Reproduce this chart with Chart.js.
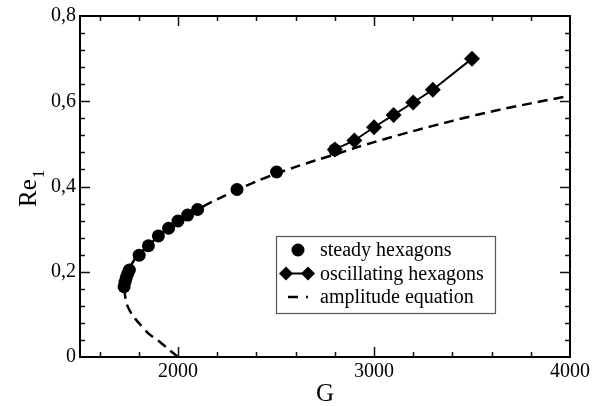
<!DOCTYPE html>
<html>
<head>
<meta charset="utf-8">
<script src="https://cdn.jsdelivr.net/npm/chart.js@4"></script>
<style>
  html, body { margin: 0; padding: 0; background: #fff; }
  #wrap { width: 601px; height: 406px; }
</style>
</head>
<body>
<div id="wrap"><canvas id="c" width="601" height="406"></canvas></div>
<script>
  // ── data ─────────────────────────────────────────────────
  const steadyG  = [1725, 1730, 1736, 1743, 1752, 1802, 1849, 1900, 1952, 2000, 2049, 2100, 2301, 2503, 2800];
  const steadyRe = [0.165, 0.176, 0.186, 0.195, 0.204, 0.239, 0.261, 0.284, 0.302, 0.319, 0.333, 0.346, 0.393, 0.434, 0.486];

  const oscG  = [2800, 2900, 3000, 3100, 3200, 3300, 3500];
  const oscRe = [0.487, 0.508, 0.539, 0.568, 0.597, 0.627, 0.700];

  const ampG  = [2000, 1960, 1900, 1850, 1800, 1765, 1742, 1731, 1728, 1731, 1740, 1755, 1780, 1800, 1850, 1900, 1950, 2000,
                 2100, 2200, 2300, 2400, 2500, 2600, 2700, 2800, 2900, 3000, 3200, 3400, 3600, 3800, 4000];
  const ampRe = [0, 0.015, 0.038, 0.055, 0.080, 0.100, 0.120, 0.140, 0.155, 0.170, 0.190, 0.210, 0.230, 0.240, 0.262, 0.283, 0.301, 0.318,
                 0.346, 0.370, 0.392, 0.412, 0.430, 0.446, 0.461, 0.475, 0.490, 0.504, 0.530, 0.554, 0.576, 0.595, 0.613];

  const xTicks = [2000, 3000, 4000];
  const yTicks = [0, 0.2, 0.4, 0.6, 0.8];

  const legendLabels = ['steady hexagons', 'oscillating hexagons', 'amplitude equation'];

  const FONT = "'Liberation Serif', 'Times New Roman', serif";

  const pts = (xs, ys) => xs.map((x, i) => ({ x: x, y: ys[i] }));

  // frame, inward ticks, axis titles and legend
  const framePlugin = {
    id: 'frame',
    afterDraw(chart) {
      const { ctx, chartArea: a, scales } = chart;
      const xs = scales.x, ys = scales.y;
      ctx.save();

      // minor + major ticks on all four sides
      ctx.strokeStyle = '#111';
      ctx.lineWidth = 1.5;
      ctx.beginPath();
      for (let v = 1600; v < 4000; v += 200) {
        const px = Math.round(xs.getPixelForValue(v)) + 0.5;
        const len = v % 1000 === 0 ? 10 : 5;
        ctx.moveTo(px, a.bottom); ctx.lineTo(px, a.bottom - len);
        ctx.moveTo(px, a.top); ctx.lineTo(px, a.top + len);
      }
      for (let k = 1; k < 20; k++) {
        const v = k * 0.04;
        const py = Math.round(ys.getPixelForValue(v)) + 0.5;
        const len = k % 5 === 0 ? 10 : 5;
        ctx.moveTo(a.left, py); ctx.lineTo(a.left + len, py);
        ctx.moveTo(a.right, py); ctx.lineTo(a.right - len, py);
      }
      ctx.stroke();

      ctx.strokeStyle = '#000';
      ctx.lineWidth = 2;
      ctx.strokeRect(a.left, a.top, a.right - a.left, a.bottom - a.top);

      // x title
      ctx.fillStyle = '#000';
      ctx.font = '25px ' + FONT;
      ctx.textAlign = 'center';
      ctx.textBaseline = 'alphabetic';
      ctx.fillText('G', (a.left + a.right) / 2, 401);

      // y title with subscript
      ctx.save();
      ctx.translate(36, 207);
      ctx.rotate(-Math.PI / 2);
      ctx.textAlign = 'left';
      ctx.font = '25px ' + FONT;
      ctx.fillText('Re', 0, 0);
      const w = ctx.measureText('Re').width;
      ctx.font = '17px ' + FONT;
      ctx.fillText('1', w + 1, 8);
      ctx.restore();

      // legend box
      const bx = a.left + 196, by = a.top + 220, bw = 219, bh = 77;
      ctx.fillStyle = '#fff';
      ctx.fillRect(bx, by, bw, bh);
      ctx.strokeStyle = '#555';
      ctx.lineWidth = 1.2;
      ctx.strokeRect(bx + 0.5, by + 0.5, bw, bh);

      const rowY = [by + 14, by + 37.5, by + 61];
      const tx = bx + 44;

      ctx.fillStyle = '#000';
      ctx.beginPath();
      ctx.arc(bx + 22, rowY[0], 6.5, 0, Math.PI * 2);
      ctx.fill();

      ctx.strokeStyle = '#000';
      ctx.lineWidth = 2;
      ctx.beginPath();
      ctx.moveTo(bx + 10, rowY[1]); ctx.lineTo(bx + 32, rowY[1]);
      ctx.stroke();
      [bx + 10, bx + 32].forEach(cx => {
        ctx.beginPath();
        ctx.moveTo(cx, rowY[1] - 7); ctx.lineTo(cx + 7, rowY[1]);
        ctx.lineTo(cx, rowY[1] + 7); ctx.lineTo(cx - 7, rowY[1]);
        ctx.closePath();
        ctx.fill();
      });

      ctx.lineWidth = 2.5;
      ctx.setLineDash([10, 8]);
      ctx.beginPath();
      ctx.moveTo(bx + 12, rowY[2]); ctx.lineTo(bx + 32, rowY[2]);
      ctx.stroke();
      ctx.setLineDash([]);

      ctx.font = '20px ' + FONT;
      ctx.textAlign = 'left';
      ctx.textBaseline = 'middle';
      legendLabels.forEach((t, i) => ctx.fillText(t, tx, rowY[i] + 1));

      ctx.restore();
    }
  };

  new Chart(document.getElementById('c'), {
    type: 'scatter',
    data: {
      datasets: [
        {
          label: legendLabels[0],
          data: pts(steadyG, steadyRe),
          pointStyle: 'circle',
          pointRadius: 6.5,
          pointBackgroundColor: '#000',
          pointBorderWidth: 0,
          showLine: false,
          order: 1
        },
        {
          label: legendLabels[1],
          data: pts(oscG, oscRe),
          pointStyle: 'rectRot',
          pointRadius: 8,
          pointBackgroundColor: '#000',
          pointBorderWidth: 0,
          showLine: true,
          borderColor: '#000',
          borderWidth: 2,
          order: 2
        },
        {
          label: legendLabels[2],
          data: pts(ampG, ampRe),
          pointRadius: 0,
          showLine: true,
          borderColor: '#000',
          borderWidth: 2.5,
          borderDash: [10, 6],
          tension: 0.3,
          order: 3
        }
      ]
    },
    options: {
      responsive: false,
      animation: false,
      events: [],
      layout: { padding: { top: 16, right: 31, left: 0, bottom: 0 } },
      plugins: { legend: { display: false }, tooltip: { enabled: false } },
      scales: {
        x: {
          type: 'linear',
          min: 1500, max: 4000,
          grid: { display: false, drawTicks: false },
          border: { display: false },
          afterBuildTicks: s => { s.ticks = xTicks.map(v => ({ value: v })); },
          afterFit: s => { s.height = 49; },
          ticks: {
            color: '#000', padding: 3, maxRotation: 0, autoSkip: false,
            font: { family: FONT, size: 20 },
            callback: v => String(v)
          }
        },
        y: {
          type: 'linear',
          min: 0, max: 0.8,
          grid: { display: false, drawTicks: false },
          border: { display: false },
          afterBuildTicks: s => { s.ticks = yTicks.map(v => ({ value: v })); },
          afterFit: s => { s.width = 80; },
          ticks: {
            color: '#000', padding: 4, autoSkip: false,
            font: { family: FONT, size: 20 },
            callback: v => v === 0 ? '0' : v.toFixed(1).replace('.', ',')
          }
        }
      }
    },
    plugins: [framePlugin]
  });
</script>
</body>
</html>
